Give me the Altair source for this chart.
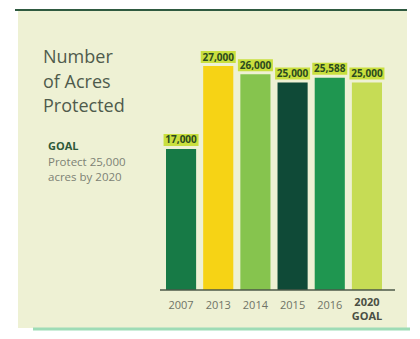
import altair as alt
import pandas as pd

years = ["2007", "2013", "2014", "2015", "2016", "2020"]
acres = [17000, 27000, 26000, 25000, 25588, 25000]
value_labels = ["17,000", "27,000", "26,000", "25,000", "25,588", "25,000"]
bar_colors = ["#177a46", "#f6d315", "#86c44e", "#0f4a37", "#1f9650", "#c6dc55"]
title_lines = ["Number", "of Acres", "Protected"]
goal_head = "GOAL"
goal_lines = ["Protect 25,000", "acres by 2020"]
goal_sub = "GOAL"

df = pd.DataFrame({"year": years, "acres": acres, "label": value_labels})

W, H = 404, 323
one = alt.Data(values=[{}])

xs = alt.X("year:N", sort=years, axis=None,
           scale=alt.Scale(range=[158, 374], paddingInner=0.19, paddingOuter=0))
ys = alt.Y("acres:Q", axis=None, scale=alt.Scale(domain=[0, 27000], range=[282, 58]))

card = alt.Chart(one).mark_rect(color="#eef1d4").encode(
    x=alt.value(10), x2=alt.value(399), y=alt.value(2), y2=alt.value(320))
top_line = alt.Chart(one).mark_rule(color="#2f5a40", strokeWidth=2).encode(
    x=alt.value(7), x2=alt.value(399), y=alt.value(2))
bottom_line = alt.Chart(one).mark_rule(color="#9edcb6", strokeWidth=3).encode(
    x=alt.value(25), x2=alt.value(402), y=alt.value(321))

base = alt.Chart(df)
bars = base.mark_bar().encode(
    x=xs, y=ys,
    color=alt.Color("year:N", scale=alt.Scale(domain=years, range=bar_colors), legend=None))
label_bg = base.mark_tick(color="#c9df3e", thickness=12, size=35, opacity=1, yOffset=-9).encode(x=xs, y=ys)
label_txt = base.mark_text(font="Open Sans", fontWeight="bold", fontSize=10, color="#2b4a1f",
                           baseline="middle", yOffset=-8.5).encode(x=xs, y=ys, text="label:N")

baseline = alt.Chart(one).mark_rule(color="#4d5848", strokeWidth=1.5).encode(
    x=alt.value(152), x2=alt.value(387), y=alt.value(282))

xlab = base.transform_filter(alt.datum.year != "2020").mark_text(
    font="Open Sans", fontSize=11, color="#6f7366", baseline="middle").encode(
    x=xs, y=alt.value(298), text="year:N")
xlab_goal = base.transform_filter(alt.datum.year == "2020").mark_text(
    font="Open Sans", fontSize=11, fontWeight="bold", color="#4a4f44", baseline="middle").encode(
    x=xs, y=alt.value(295), text="year:N")
xlab_goal2 = base.transform_filter(alt.datum.year == "2020").mark_text(
    font="Open Sans", fontSize=11, fontWeight="bold", color="#4a4f44", baseline="middle").encode(
    x=xs, y=alt.value(309), text=alt.value(goal_sub))

title_layers = [
    alt.Chart(one).mark_text(font="Open Sans", fontSize=18, color="#4f5b4c", align="left",
                             baseline="alphabetic").encode(
        x=alt.value(35), y=alt.value(55 + 24.5 * i), text=alt.value(t))
    for i, t in enumerate(title_lines)
]
goal_head_l = alt.Chart(one).mark_text(font="Open Sans", fontSize=11, fontWeight="bold",
                                       color="#2e5a3a", align="left", baseline="alphabetic").encode(
    x=alt.value(40), y=alt.value(142), text=alt.value(goal_head))
goal_layers = [
    alt.Chart(one).mark_text(font="Open Sans", fontSize=11.5, color="#7d8274", align="left",
                             baseline="alphabetic").encode(
        x=alt.value(40), y=alt.value(158 + 14.5 * i), text=alt.value(t))
    for i, t in enumerate(goal_lines)
]

chart = alt.layer(
    card, top_line, bottom_line, bars, baseline, label_bg, label_txt,
    xlab, xlab_goal, xlab_goal2, *title_layers, goal_head_l, *goal_layers
).properties(
    width=W, height=H, autosize=alt.AutoSizeParams(type="none"), padding=0, background="white"
).configure_view(stroke=None)

chart.save("out.html", embed_options={"renderer": "svg", "actions": False})
